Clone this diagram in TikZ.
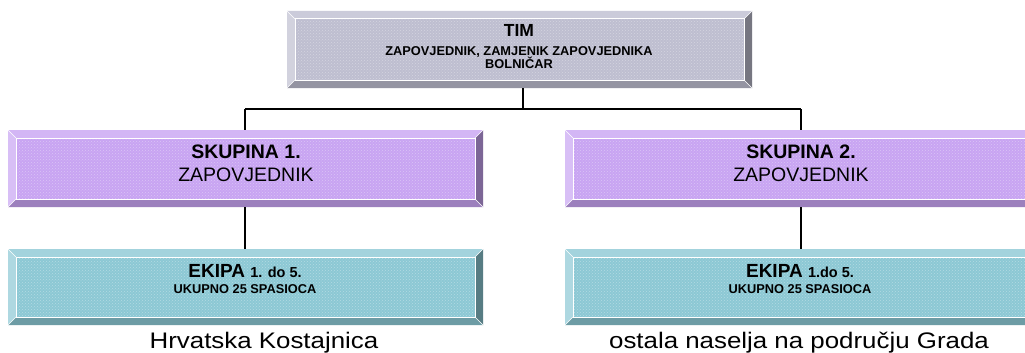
\documentclass[tikz,border=0pt]{standalone}
\usepackage{fontspec}
\setmainfont{Liberation Sans}
\newfontfamily\labelfont[FakeStretch=1.15]{Liberation Sans}
\usetikzlibrary{calc,patterns}
\definecolor{timc}{RGB}{190,190,208}
\definecolor{skc}{RGB}{200,164,242}
\definecolor{ekc}{RGB}{140,200,212}
\tikzset{
  bevel/.style={fill=#1, draw=none, inner sep=0pt, path picture={
    \coordinate (pA) at (path picture bounding box.north west);
    \coordinate (pB) at (path picture bounding box.north east);
    \coordinate (pC) at (path picture bounding box.south east);
    \coordinate (pD) at (path picture bounding box.south west);
    \coordinate (qA) at ($(pA)+(8pt,-8pt)$);
    \coordinate (qB) at ($(pB)+(-8pt,-8pt)$);
    \coordinate (qC) at ($(pC)+(-8pt,8pt)$);
    \coordinate (qD) at ($(pD)+(8pt,8pt)$);
    \fill[pattern=crosshatch dots, pattern color=white, opacity=0.35] (pA) rectangle (pC);
    \fill[#1!80!white] (pA)--(pB)--(qB)--(qA)--cycle;
    \fill[#1!70!white] (pA)--(qA)--(qD)--(pD)--cycle;
    \fill[#1!78!black] (pD)--(qD)--(qC)--(pC)--cycle;
    \fill[#1!62!black] (pB)--(pC)--(qC)--(qB)--cycle;
    \draw[white, line width=1pt] (qA) rectangle (qC);
    \draw[white, line width=0.6pt] (pA)--(qA) (pB)--(qB) (pC)--(qC) (pD)--(qD);
  }},
  conn/.style={draw=black, line width=1.6pt},
  boxtext/.style={anchor=base, inner sep=0pt, text=black},
  placelabel/.style={anchor=base, inner sep=0pt, font=\labelfont\fontsize{22.5}{26}\selectfont}
}
\begin{document}
\begin{tikzpicture}[x=1pt, y=-1pt]
\useasboundingbox[fill=white] (0,0) rectangle (1025,353);

% boxes
\node[bevel=timc, minimum width=465pt, minimum height=77pt] (tim) at (519.5,49.5) {};
\node[bevel=skc, minimum width=475pt, minimum height=77pt] (sk1) at (245.5,168.5) {};
\node[bevel=skc, minimum width=475pt, minimum height=77pt] (sk2) at (802.5,168.5) {};
\node[bevel=ekc, minimum width=475pt, minimum height=76pt] (ek1) at (245.5,287) {};
\node[bevel=ekc, minimum width=475pt, minimum height=76pt] (ek2) at (802.5,287) {};

% connectors
\coordinate (bus) at (523,109);
\coordinate (busL) at (245,109);
\coordinate (busR) at (801,109);
\draw[conn] (bus |- tim.south) -- (bus);
\draw[conn] (busL) -- (busR);
\draw[conn] (busL) -- (busL |- sk1.north);
\draw[conn] (busR) -- (busR |- sk2.north);
\draw[conn] (busL |- sk1.south) -- (busL |- ek1.north);
\draw[conn] (busR |- sk2.south) -- (busR |- ek2.north);

% texts
\node[boxtext, font=\bfseries\fontsize{17.5}{20}\selectfont] (timA) at (519,37) {TIM};
\node[boxtext, font=\bfseries\fontsize{12.8}{14}\selectfont] (timB) at (519,56) {ZAPOVJEDNIK, ZAMJENIK ZAPOVJEDNIKA};
\node[boxtext, font=\bfseries\fontsize{12.8}{14}\selectfont] (timC) at (519,69) {BOLNIČAR};

\node[boxtext, font=\bfseries\fontsize{19.5}{22}\selectfont] (sk1A) at (246,158) {SKUPINA 1.};
\node[boxtext, font=\fontsize{19.5}{22}\selectfont] (sk1B) at (246,181) {ZAPOVJEDNIK};
\node[boxtext, font=\bfseries\fontsize{19.5}{22}\selectfont] (sk2A) at (801,158) {SKUPINA 2.};
\node[boxtext, font=\fontsize{19.5}{22}\selectfont] (sk2B) at (801,181) {ZAPOVJEDNIK};

\node[boxtext, font=\bfseries\fontsize{19}{22}\selectfont] (ek1A) at (245,277) {EKIPA {\fontsize{14.5}{16}\selectfont 1. do 5.}};
\node[boxtext, font=\bfseries\fontsize{12.8}{14}\selectfont] (ek1B) at (245,293) {UKUPNO 25 SPASIOCA};
\node[boxtext, font=\bfseries\fontsize{19}{22}\selectfont] (ek2A) at (800,277) {EKIPA {\fontsize{14.5}{16}\selectfont 1.do 5.}};
\node[boxtext, font=\bfseries\fontsize{12.8}{14}\selectfont] (ek2B) at (800,293) {UKUPNO 25 SPASIOCA};

\node[placelabel] (lab1) at (264,348) {Hrvatska Kostajnica};
\node[placelabel] (lab2) at (799,348) {ostala naselja na području Grada};
\end{tikzpicture}
\end{document}
